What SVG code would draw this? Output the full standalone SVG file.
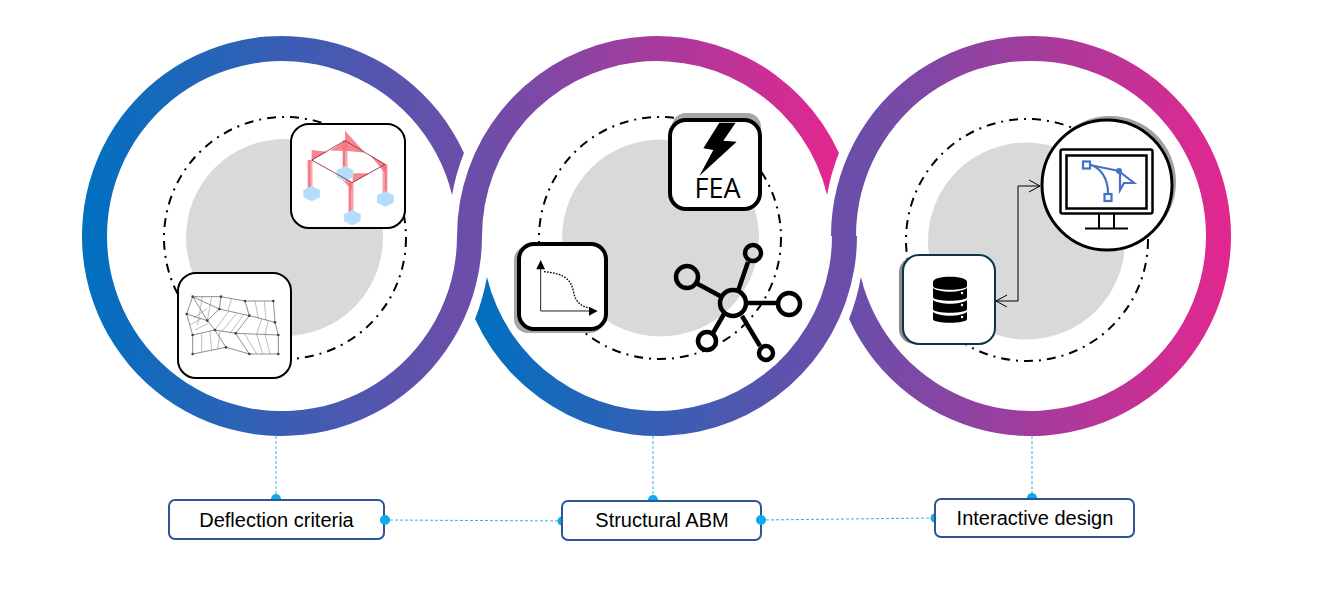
<svg xmlns="http://www.w3.org/2000/svg" width="1318" height="591" viewBox="0 0 1318 591">
<style>
.halo{fill:#d9d9d9}
.orbit{fill:none;stroke:#000;stroke-width:2;stroke-dasharray:9 6 2 6}
.card{fill:#fff;stroke:#000}
.label{fill:#fff;stroke:#2f5597;stroke-width:2}
.txt{font-family:"Liberation Sans",Arial,sans-serif;font-size:20px;fill:#000;text-anchor:middle}
.link{fill:none;stroke:#35b1dc;stroke-width:1;stroke-dasharray:3 2}
.dot{fill:#0fa9ee}
.arrow{fill:none;stroke:#000;stroke-width:1}
.blue{fill:none;stroke:#4472c4}
.col{stroke:#f9a3aa;stroke-width:15;fill:none}
.core{stroke:#f0707c;stroke-width:5;fill:none}
.tri{fill:#f4717c;opacity:.85}
.cube{fill:#b5dcfb}
.m1{fill:none;stroke:#777;stroke-width:2.500}
.m2{fill:none;stroke:#b0b0b0;stroke-width:2.500}
.net{fill:none;stroke:#000;stroke-width:4.500}
</style>
<defs>
<linearGradient id="g1" gradientUnits="userSpaceOnUse" x1="82" y1="0" x2="457" y2="0"><stop offset="0" stop-color="#0070c0"/><stop offset="1" stop-color="#6b4ea9"/></linearGradient>
<linearGradient id="g2a" gradientUnits="userSpaceOnUse" x1="482" y1="0" x2="838" y2="0"><stop offset="0" stop-color="#6b4ea9"/><stop offset="1" stop-color="#e3278f"/></linearGradient>
<linearGradient id="g2b" gradientUnits="userSpaceOnUse" x1="474" y1="0" x2="832" y2="0"><stop offset="0" stop-color="#0070c0"/><stop offset="1" stop-color="#6b4ea9"/></linearGradient>
<linearGradient id="g3" gradientUnits="userSpaceOnUse" x1="857" y1="0" x2="1231" y2="0"><stop offset="0" stop-color="#6b4ea9"/><stop offset="1" stop-color="#e3278f"/></linearGradient>
<marker id="open" markerUnits="userSpaceOnUse" markerWidth="14" markerHeight="16" refX="12" refY="7" orient="auto-start-reverse"><path d="M1 1 L12 7 L1 13" fill="none" stroke="#000" stroke-width="1"/></marker>
</defs>

<g id="rings">
<path fill="url(#g1)" d="M463.960 153 A200 200 0 1 0 482 236 L457 236 A175 175 0 1 1 452.100 195 A209 209 0 0 1 463.960 153 Z"/>
<path fill="url(#g2b)" d="M475.040 319 A200 200 0 0 0 857 236 L832 236 A175 175 0 0 1 486.900 277 A209 209 0 0 1 475.040 319 Z"/>
<path fill="url(#g2a)" d="M457 236 A200 200 0 0 1 838.960 153 A209 209 0 0 0 827.100 195 A175 175 0 0 0 482 236 Z"/>
<path fill="url(#g3)" d="M831 236 A200 200 0 1 1 849.040 319 A209 209 0 0 0 860.900 277 A175 175 0 1 0 856 236 Z"/>
</g>

<g id="halos">
<circle class="halo" cx="284.500" cy="237.500" r="98.500"/>
<circle class="halo" cx="660.500" cy="238" r="98.500"/>
<circle class="halo" cx="1026.500" cy="241" r="98.500"/>
<circle class="orbit" cx="285" cy="238" r="121"/>
<circle class="orbit" cx="660" cy="238" r="121"/>
<circle class="orbit" cx="1027" cy="240" r="121"/>
</g>

<g id="connectors">
<path class="link" d="M276 436 V498"/>
<path class="link" d="M653 436 V498"/>
<path class="link" d="M1032 436 V497"/>
<path class="link" d="M385 520 L562 521"/>
<path class="link" d="M761 520 L934 518"/>
<circle class="dot" cx="276" cy="499" r="5"/>
<circle class="dot" cx="653" cy="500" r="5"/>
<circle class="dot" cx="1032" cy="498" r="5"/>
<circle class="dot" cx="562" cy="521" r="4.500"/>
<circle class="dot" cx="935" cy="518" r="4.500"/>
<path class="arrow" d="M1040 186 H1018 V301 H996" marker-start="url(#open)" marker-end="url(#open)"/>
</g>

<g id="node-frame">
<rect class="card" stroke-width="2" x="291" y="124" width="114" height="104" rx="18"/>
<g transform="translate(270 110) scale(.33333)">
<path class="col" d="M120 150 V238 M225 92 V178 M345 163 V255 M243 218 V305"/>
<path class="core" d="M118 150 V238 M222 92 V178 M347 163 V255 M240 218 V305"/>
<path class="tri" d="M125 120 L172 125 L125 152 Z"/>
<path class="tri" d="M225 62 L285 128 L225 122 Z"/>
<path class="tri" d="M225 92 L180 122 L225 122 Z"/>
<path class="tri" d="M347 163 L300 135 L347 192 Z"/>
<path class="tri" d="M247 218 L200 190 L247 242 Z"/>
<path class="tri" d="M247 218 L250 190 L300 190 Z"/>
<path class="tri" d="M125 150 L172 180 L130 152 Z"/>
<path class="cube" d="M125 228 L150 240 L150 262 L125 274 L100 262 L100 240 Z"/>
<path class="cube" d="M225 168 L250 180 L250 202 L225 214 L200 202 L200 180 Z"/>
<path class="cube" d="M346 244 L371 256 L371 278 L346 290 L321 278 L321 256 Z"/>
<path class="cube" d="M247 300 L272 312 L272 334 L247 346 L222 334 L222 312 Z"/>
<path d="M125 150 L225 92 L345 163 L247 218 Z" fill="none" stroke="#8c2a33" stroke-width="2.500"/>
</g>
</g>

<g id="node-mesh">
<rect class="card" stroke-width="2" x="178" y="273" width="113" height="105" rx="18"/>
<g transform="translate(165 265) scale(.33333)">
<path class="m2" d="M112 95 L98 180 M140 95 L127 167 M200 100 L190 135 M270 108 L280 160 M298 108 L303 165 M190 140 L150 195 M215 145 L170 200 M235 150 L195 205 M290 162 L275 208 M310 168 L300 208 M110 205 L110 262 M135 200 L140 258 M165 200 L158 252 M240 208 L275 267 M275 208 L293 267 M300 208 L315 267 M85 160 L127 130 M75 180 L110 160 M90 195 L130 175"/>
<path class="m1" d="M83 95 L168 95 L240 108 L325 108 L330 172 L253 152 L163 132 L83 95 L65 147 L83 210 L150 195 L212 205 L340 210 L340 267 L253 267 L183 247 L83 267 L83 210 M83 95 L127 167 L150 195 L183 247 M127 167 L163 132 L168 95 M240 108 L253 152 L212 205 L253 267 M65 147 L127 167 M330 172 L340 210"/>
<g fill="#444"><circle cx="83" cy="95" r="4"/><circle cx="168" cy="95" r="4"/><circle cx="240" cy="108" r="4"/><circle cx="325" cy="108" r="4"/><circle cx="65" cy="147" r="4"/><circle cx="163" cy="132" r="4"/><circle cx="253" cy="152" r="4"/><circle cx="330" cy="172" r="4"/><circle cx="127" cy="167" r="4"/><circle cx="150" cy="195" r="4"/><circle cx="83" cy="210" r="4"/><circle cx="212" cy="205" r="4"/><circle cx="340" cy="210" r="4"/><circle cx="83" cy="267" r="4"/><circle cx="183" cy="247" r="4"/><circle cx="253" cy="267" r="4"/><circle cx="340" cy="267" r="4"/></g>
</g>
</g>

<g id="node-fea">
<rect x="672" y="113" width="89" height="92" rx="14" fill="#a6a6a6"/>
<rect class="card" stroke-width="4" x="670" y="120" width="90" height="89" rx="16"/>
<path transform="translate(440 100) scale(.33333)" d="M838 68 L887 68 L850 122 L890 125 L778 228 L820 150 L790 145 Z" fill="#000"/>
<text x="717.500" y="198" font-family="'Open Sans',sans-serif" font-size="27" text-anchor="middle" fill="#000">FEA</text>
</g>

<g id="node-chart">
<rect x="514" y="246" width="90" height="87" rx="14" fill="#a6a6a6"/>
<rect class="card" stroke-width="4" x="519" y="244" width="87" height="85" rx="15"/>
<g transform="translate(440 100) scale(.33333)">
<path d="M302 505 V633 H450" fill="none" stroke="#222" stroke-width="3"/>
<path d="M302 480 L289 508 L315 508 Z M473 633 L447 620 L447 647 Z" fill="#000"/>
<path d="M312 515 C375 520 392 540 400 572 C406 612 430 620 450 625" fill="none" stroke="#000" stroke-width="4" stroke-dasharray="5 4"/>
</g>
</g>

<g id="node-network">
<path class="net" d="M696 283 L722 297 M748 262 L738 291 M746 303 H778 M724 314 L713 333 M742 316 L760 346"/>
<circle class="net" cx="733" cy="303" r="13"/>
<circle class="net" cx="687" cy="277" r="11"/>
<circle class="net" cx="753" cy="253" r="8"/>
<circle class="net" cx="789" cy="304" r="11"/>
<circle class="net" cx="707" cy="341" r="9"/>
<circle class="net" cx="766" cy="353" r="7"/>
</g>

<g id="node-database">
<rect x="899" y="257" width="92" height="87" rx="15" fill="#8c8c8c"/>
<rect class="card" style="stroke:#0d3548" stroke-width="2" x="903" y="255" width="92" height="89" rx="16"/>
<path d="M933 282 C933 275 967 275 967 282 V286 C967 291 933 291 933 286 Z" fill="#000"/>
<path d="M933 288 C940 293 960 293 967 288 V297 C967 302 933 302 933 297 Z" fill="#000"/>
<path d="M933 300 C940 305 960 305 967 300 V309 C967 314 933 314 933 309 Z" fill="#000"/>
<path d="M933 312 C940 317 960 317 967 312 V319 C967 324 933 324 933 319 Z" fill="#000"/>
<circle cx="962" cy="293" r="1.200" fill="#fff"/><circle cx="962" cy="305" r="1.200" fill="#fff"/><circle cx="962" cy="317" r="1.200" fill="#fff"/>
</g>

<g id="node-editor">
<circle cx="1110" cy="182" r="66" fill="#a0a0a0"/>
<circle class="card" stroke-width="3" cx="1107" cy="185" r="65"/>
<rect x="1060.500" y="149.500" width="92" height="64" rx="2" fill="none" stroke="#000" stroke-width="2.500"/>
<rect x="1066.500" y="155.500" width="80" height="53" fill="none" stroke="#000" stroke-width="2.500"/>
<path d="M1099 214 V228 M1114 214 V228 M1085 228.500 H1128" fill="none" stroke="#000" stroke-width="2"/>
<path class="blue" stroke-width="2.200" d="M1090 165 L1119 171 M1090 165 C1100 167 1108 178 1108 193"/>
<rect class="blue" stroke-width="2.200" x="1083" y="161.500" width="7" height="7" style="fill:#fff"/>
<rect class="blue" stroke-width="2.200" x="1104.500" y="194" width="7" height="7" style="fill:#fff"/>
<circle cx="1119" cy="171" r="3" fill="#4472c4"/>
<path class="blue" stroke-width="2.200" d="M1120 172 L1134 183 L1124 183 L1120 190 Z"/>
</g>

<g id="label-deflection">
<rect class="label" x="169" y="500" width="215" height="39" rx="6"/>
<text class="txt" x="276.500" y="527">Deflection criteria</text>
<circle class="dot" cx="385" cy="520" r="5"/>
</g>
<g id="label-abm">
<rect class="label" x="562" y="501" width="199" height="39" rx="6"/>
<text class="txt" x="662" y="527">Structural ABM</text>
<circle class="dot" cx="761" cy="520" r="5"/>
</g>
<g id="label-interactive">
<rect class="label" x="935" y="499" width="199" height="38" rx="6"/>
<text class="txt" x="1035" y="525">Interactive design</text>
</g>
</svg>
